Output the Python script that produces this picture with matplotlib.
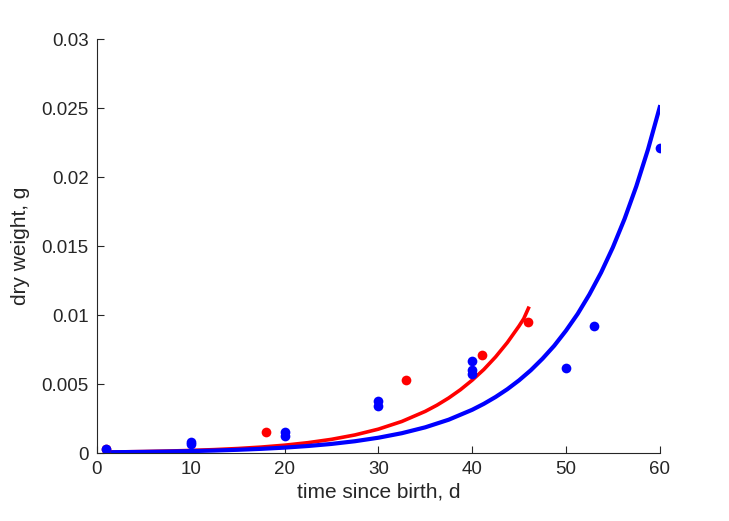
import matplotlib
matplotlib.use('Agg')
import matplotlib.pyplot as plt

plt.rcParams['font.family'] = ['Liberation Sans', 'DejaVu Sans']

# Dados
t_azul = [1, 10, 10, 20, 20, 30, 30, 40, 40, 40, 50, 53, 60]
peso_azul = [0.0003, 0.00065, 0.0008, 0.0012, 0.0015, 0.0034, 0.0038,
             0.0057, 0.0060, 0.0067, 0.0062, 0.0092, 0.0221]

t_vermelho = [1, 18, 33, 41, 46]
peso_vermelho = [0.0003, 0.0015, 0.0053, 0.0071, 0.0095]

# Curvas ajustadas (valores lidos ao longo das linhas)
t_curva_azul = [1, 2.5, 5, 7.5, 10, 12.5, 15, 17.5, 20, 22.5, 25, 27.5, 30,
                32.5, 35, 37.5, 40, 41.25, 42.5, 43.75, 45, 46.25, 47.5, 48.75,
                50, 51.25, 52.5, 53.75, 55, 56.25, 57.5, 58.75, 60]
curva_azul = [5.4e-5, 6.3e-5, 8.2e-5, 1.07e-4, 1.38e-4, 1.79e-4, 2.33e-4, 3.02e-4,
              3.91e-4, 5.08e-4, 6.58e-4, 8.54e-4, 1.108e-3, 1.436e-3, 1.863e-3,
              2.416e-3, 3.133e-3, 3.568e-3, 4.064e-3, 4.627e-3, 5.27e-3, 6.00e-3,
              6.84e-3, 7.78e-3, 8.87e-3, 1.009e-2, 1.150e-2, 1.309e-2, 1.491e-2,
              1.698e-2, 1.934e-2, 2.202e-2, 2.508e-2]

t_curva_vermelha = [1, 2.5, 5, 7.5, 10, 12.5, 15, 17.5, 20, 22.5, 25, 27.5, 30,
                    32.5, 35, 36.25, 37.5, 38.75, 40, 41.25, 42.5, 43.75, 45, 45.5, 46]
curva_vermelha = [6.8e-5, 8.1e-5, 1.07e-4, 1.41e-4, 1.86e-4, 2.46e-4, 3.25e-4,
                  4.29e-4, 5.67e-4, 7.50e-4, 9.91e-4, 1.309e-3, 1.730e-3, 2.287e-3,
                  3.02e-3, 3.47e-3, 3.99e-3, 4.59e-3, 5.28e-3, 6.06e-3, 6.97e-3,
                  8.01e-3, 9.21e-3, 9.74e-3, 1.05e-2]

xticks = [0, 10, 20, 30, 40, 50, 60]
yticks = [0, 0.005, 0.01, 0.015, 0.02, 0.025, 0.03]
ytick_labels = ['0', '0.005', '0.01', '0.015', '0.02', '0.025', '0.03']

cor_texto = '#262626'

fig = plt.figure(figsize=(7.29, 5.21), dpi=100)
ax = fig.add_axes([0.133, 0.1305, 0.772, 0.794])

ax.plot(t_curva_vermelha, curva_vermelha, color='red', linewidth=2.6)
ax.plot(t_curva_azul, curva_azul, color='blue', linewidth=3)
ax.plot(t_vermelho, peso_vermelho, 'o', color='red', markersize=7, markeredgewidth=0)
ax.plot(t_azul, peso_azul, 'o', color='blue', markersize=7, markeredgewidth=0)

ax.set_xlim(0, 60)
ax.set_ylim(0, 0.03)
ax.set_xticks(xticks)
ax.set_yticks(yticks)
ax.set_yticklabels(ytick_labels)

ax.spines['top'].set_visible(False)
ax.spines['right'].set_visible(False)
for lado in ['left', 'bottom']:
    ax.spines[lado].set_color(cor_texto)
    ax.spines[lado].set_linewidth(0.8)
ax.tick_params(direction='in', length=5, width=0.8, colors=cor_texto, labelsize=13.5, pad=6)

ax.set_xlabel('time since birth, d', fontsize=15, color=cor_texto, labelpad=3)
ax.set_ylabel('dry weight, g', fontsize=15, color=cor_texto, labelpad=8)

plt.savefig('out.png', dpi=100)
plt.close()
